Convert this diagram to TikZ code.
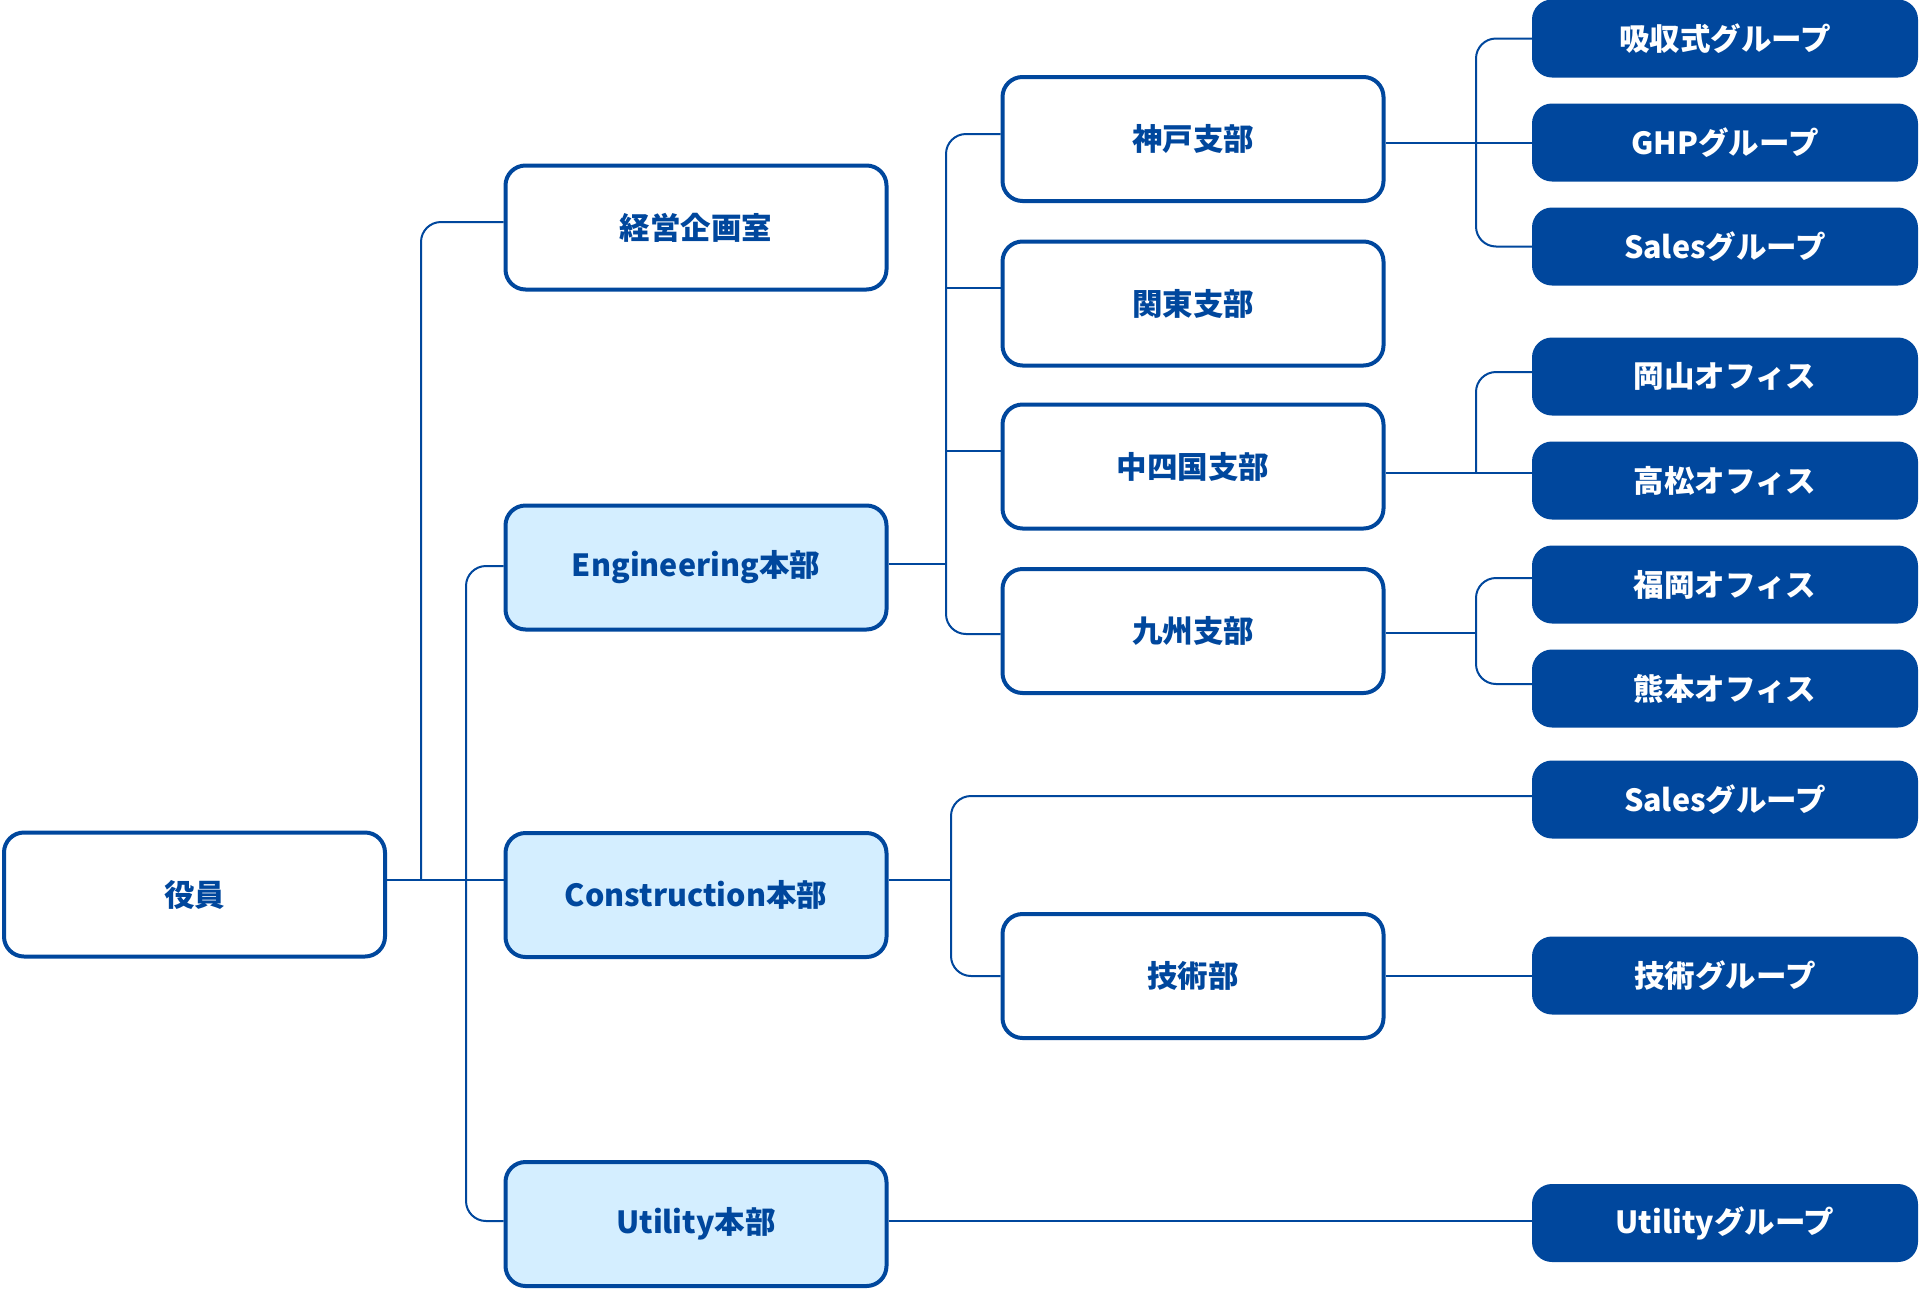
\documentclass[tikz,border=0pt]{standalone}
\usepackage{fontspec}
\setmainfont{Noto Sans CJK JP}
\definecolor{navy}{RGB}{0,71,157}
\definecolor{pale}{RGB}{212,238,255}
\begin{document}
\begin{tikzpicture}[x=1pt,y=-1pt,
  lbl/.style={font=\fontsize{30.5}{36}\selectfont\bfseries},
  box/.style={lbl, draw=navy, line width=4pt, rounded corners=20pt, minimum width=381pt, minimum height=124pt, inner sep=0pt, text=navy, fill=white},
  hq/.style={box, fill=pale},
  grp/.style={lbl, fill=navy, rounded corners=20pt, minimum width=386pt, minimum height=78pt, inner sep=0pt, text=white},
  conn/.style={draw=navy, line width=2pt, rounded corners=20pt}]
\fill[white] (0,0) rectangle (1920,1291);
\useasboundingbox (0,0) rectangle (1920,1291);
% column 1 and 2
\node[box] (yakuin) at (194.5,894.5) {役員};
\node[box] (keiei) at (696,227.5) {経営企画室};
\node[hq] (eng) at (696,567.5) {Engineering本部};
\node[hq] (cons) at (696,895) {Construction本部};
\node[hq] (util) at (696,1224) {Utility本部};
% column 3
\node[box] (kobe) at (1193,139) {神戸支部};
\node[box] (kanto) at (1193,303.5) {関東支部};
\node[box] (chu) at (1193,466.5) {中四国支部};
\node[box] (kyu) at (1193,631) {九州支部};
\node[box] (gijutsu) at (1193,976) {技術部};
% column 4
\node[grp] (g1) at (1725,38.5) {吸収式グループ};
\node[grp] (g2) at (1725,142.5) {GHPグループ};
\node[grp] (g3) at (1725,246.5) {Salesグループ};
\node[grp] (ok) at (1725,376.5) {岡山オフィス};
\node[grp] (tk) at (1725,480.5) {高松オフィス};
\node[grp] (fk) at (1725,584.5) {福岡オフィス};
\node[grp] (km) at (1725,688.5) {熊本オフィス};
\node[grp] (s2) at (1725,799.5) {Salesグループ};
\node[grp] (gg) at (1725,975.5) {技術グループ};
\node[grp] (ug) at (1725,1223) {Utilityグループ};
% junction coordinates
\coordinate (t1) at (421,880);
\coordinate (t2) at (466,880);
\coordinate (b1) at (946,564);
\coordinate (b2) at (951,880);
\coordinate (c1) at (1476,143);
\coordinate (c2) at (1476,473);
\coordinate (c3) at (1476,633);
% anchor points with offsets
\coordinate (yakOut) at ([yshift=14.5pt]yakuin.east);
\coordinate (consIn) at ([yshift=15pt]cons.west);
\coordinate (keiIn) at ([yshift=5.5pt]keiei.west);
\coordinate (engIn) at ([yshift=1.5pt]eng.west);
\coordinate (utilIn) at ([yshift=3pt]util.west);
\coordinate (engOut) at ([yshift=3.5pt]eng.east);
\coordinate (kobeIn) at ([yshift=5pt]kobe.west);
\coordinate (kantoIn) at ([yshift=15.5pt]kanto.west);
\coordinate (chuIn) at ([yshift=15.5pt]chu.west);
\coordinate (kyuIn) at ([yshift=-3pt]kyu.west);
\coordinate (consOut) at ([yshift=15pt]cons.east);
\coordinate (s2In) at ([yshift=3.5pt]s2.west);
\coordinate (kobeOut) at ([yshift=-4pt]kobe.east);
\coordinate (chuOut) at ([yshift=-6.5pt]chu.east);
\coordinate (kyuOut) at ([yshift=-2pt]kyu.east);
\coordinate (okIn) at ([yshift=4.5pt]ok.west);
\coordinate (fkIn) at ([yshift=6.5pt]fk.west);
\coordinate (kmIn) at ([yshift=4.5pt]km.west);
\coordinate (utilOut) at ([yshift=3pt]util.east);
% connectors
\draw[conn] (yakOut) -- (consIn);
\draw[conn] (t1) |- (keiIn);
\draw[conn] (engIn) -| (t2) |- (utilIn);
\draw[conn] (engOut) -- (b1);
\draw[conn] (kobeIn) -| (b1) |- (kyuIn);
\draw[conn] (kantoIn) -- (kantoIn -| b1);
\draw[conn] (chuIn) -- (chuIn -| b1);
\draw[conn] (consOut) -- (b2);
\draw[conn] (s2In) -| (b2) |- (gijutsu.west);
\draw[conn] (kobeOut) -- (kobeOut -| g2.west);
\draw[conn] (g1.west) -| (c1) |- (g3.west);
\draw[conn] (chuOut) -- (chuOut -| tk.west);
\draw[conn] (okIn) -| (c2);
\draw[conn] (kyuOut) -- (c3);
\draw[conn] (fkIn) -| (c3) |- (kmIn);
\draw[conn] (gijutsu.east) -- (gijutsu.east -| gg.west);
\draw[conn] (utilOut) -- (utilOut -| ug.west);
\end{tikzpicture}
\end{document}
